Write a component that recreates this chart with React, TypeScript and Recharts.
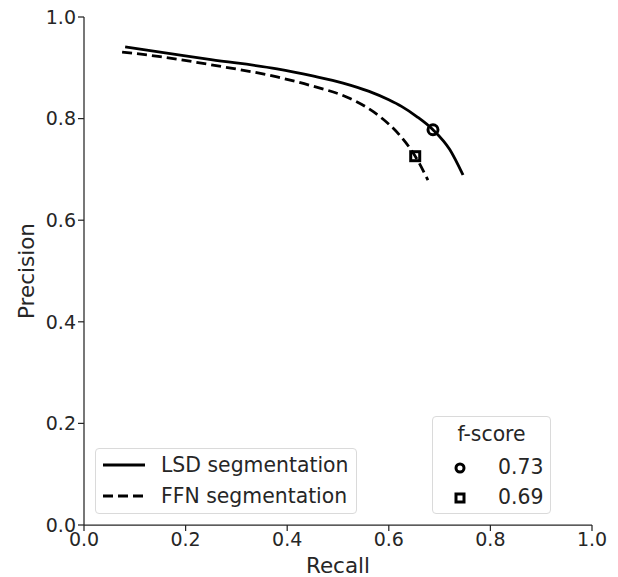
import { ComposedChart, Line, Scatter, XAxis, YAxis } from "recharts";

const lsdRecall = [0.081, 0.15, 0.25, 0.38, 0.45, 0.51, 0.56, 0.6, 0.625, 0.655, 0.687, 0.72, 0.746];
const lsdPrecision = [0.941, 0.931, 0.916, 0.898, 0.884, 0.87, 0.854, 0.837, 0.824, 0.804, 0.778, 0.739, 0.689];

const ffnRecall = [0.075, 0.15, 0.25, 0.38, 0.45, 0.518, 0.555, 0.585, 0.62, 0.652, 0.677];
const ffnPrecision = [0.931, 0.922, 0.906, 0.882, 0.864, 0.842, 0.823, 0.802, 0.769, 0.726, 0.679];

const bestLsd = [{ recall: 0.687, precision: 0.778 }];
const bestFfn = [{ recall: 0.652, precision: 0.726 }];

const ticks = [0, 0.2, 0.4, 0.6, 0.8, 1.0];
const fScores = ["0.73", "0.69"];

const INK = "#262626";
const FONT = "'DejaVu Sans', sans-serif";

const lsd = lsdRecall.map((r, i) => ({ recall: r, precision: lsdPrecision[i] }));
const ffn = ffnRecall.map((r, i) => ({ recall: r, precision: ffnPrecision[i] }));

const Circle = (props: any) => (
  <circle cx={props.cx} cy={props.cy} r={5} fill="none" stroke="#000" strokeWidth={3} />
);
const Square = (props: any) => (
  <rect x={props.cx - 4.5} y={props.cy - 4.5} width={9} height={9} fill="none" stroke="#000" strokeWidth={3} />
);

const boxStyle: React.CSSProperties = {
  position: "absolute",
  border: "1px solid #dadada",
  borderRadius: 4,
  background: "rgba(255,255,255,0.8)",
  fontFamily: FONT,
  fontSize: 20.4,
  color: INK,
  boxSizing: "border-box",
};

export default function App() {
  return (
    <div style={{ position: "absolute", left: 0, top: 0, width: 618, height: 577, background: "#fff" }}>
      <ComposedChart width={618} height={577} margin={{ top: 17, right: 26, bottom: 0, left: 0 }}>
        <XAxis
          type="number"
          dataKey="recall"
          domain={[0, 1]}
          ticks={ticks}
          tickFormatter={(v) => v.toFixed(1)}
          height={52}
          tickSize={6}
          tickMargin={2}
          stroke={INK}
          strokeWidth={1.25}
          tick={{ fill: INK, fontSize: 19, fontFamily: FONT }}
          label={{ value: "Recall", position: "insideBottom", offset: 4, fill: INK, fontSize: 21.5, fontFamily: FONT }}
          allowDuplicatedCategory={false}
        />
        <YAxis
          type="number"
          dataKey="precision"
          domain={[0, 1]}
          ticks={ticks}
          tickFormatter={(v) => v.toFixed(1)}
          width={84}
          tickSize={6}
          tickMargin={2}
          stroke={INK}
          strokeWidth={1.25}
          tick={{ fill: INK, fontSize: 19, fontFamily: FONT }}
          label={{
            content: (p: any) => {
              const cy = p.viewBox.y + p.viewBox.height / 2;
              return (
                <text
                  x={26}
                  y={cy}
                  transform={`rotate(-90, 26, ${cy})`}
                  textAnchor="middle"
                  dominantBaseline="central"
                  fill={INK}
                  fontSize={21.5}
                  fontFamily={FONT}
                >
                  Precision
                </text>
              );
            },
          }}
        />
        <Line
          data={lsd}
          dataKey="precision"
          type="monotone"
          stroke="#000"
          strokeWidth={2.8}
          dot={false}
          activeDot={false}
          isAnimationActive={false}
        />
        <Line
          data={ffn}
          dataKey="precision"
          type="monotone"
          stroke="#000"
          strokeWidth={2.8}
          strokeDasharray="10 5"
          dot={false}
          activeDot={false}
          isAnimationActive={false}
        />
        <Scatter data={bestLsd} dataKey="precision" shape={Circle} isAnimationActive={false} />
        <Scatter data={bestFfn} dataKey="precision" shape={Square} isAnimationActive={false} />
      </ComposedChart>

      <div style={{ ...boxStyle, left: 95, top: 448, width: 262, height: 66 }}>
        <svg width={50} height={66} style={{ position: "absolute", left: 0, top: 0 }}>
          <line x1={7} x2={49} y1={16} y2={16} stroke="#000" strokeWidth={2.8} />
          <line x1={7} x2={49} y1={47} y2={47} stroke="#000" strokeWidth={2.8} strokeDasharray="10 5" />
        </svg>
        <div style={{ position: "absolute", left: 65, top: 3, lineHeight: "26px" }}>LSD segmentation</div>
        <div style={{ position: "absolute", left: 65, top: 34, lineHeight: "26px" }}>FFN segmentation</div>
      </div>

      <div style={{ ...boxStyle, left: 432, top: 416, width: 119, height: 98 }}>
        <div style={{ position: "absolute", left: 0, width: 117, textAlign: "center", top: 4, lineHeight: "26px" }}>
          f-score
        </div>
        <svg width={40} height={98} style={{ position: "absolute", left: 0, top: 0 }}>
          <circle cx={27} cy={51} r={4} fill="none" stroke="#000" strokeWidth={3} />
          <rect x={23} y={77} width={8} height={8} fill="none" stroke="#000" strokeWidth={3} />
        </svg>
        <div style={{ position: "absolute", left: 65, top: 37, lineHeight: "26px" }}>{fScores[0]}</div>
        <div style={{ position: "absolute", left: 65, top: 67, lineHeight: "26px" }}>{fScores[1]}</div>
      </div>
    </div>
  );
}
